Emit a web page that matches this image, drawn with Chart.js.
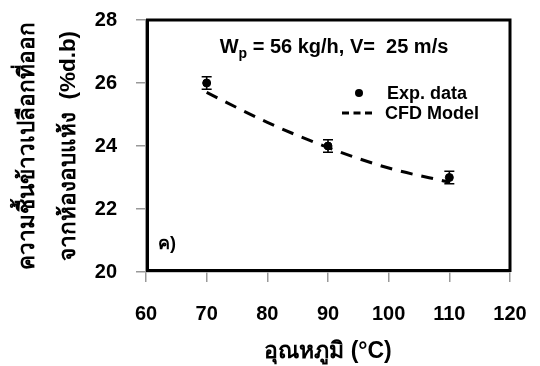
<!DOCTYPE html>
<html>
<head>
<meta charset="utf-8">
<script src="https://cdn.jsdelivr.net/npm/chart.js@4/dist/chart.umd.min.js"></script>
<style>
  html, body { margin: 0; padding: 0; background: #fff; }
  #wrap { width: 540px; height: 366px; }
</style>
</head>
<body>
<div id="wrap"><canvas id="c" width="540" height="366"></canvas></div>
<script>
// Measured paddy moisture at the dryer outlet vs. drying temperature
const tempsExp = [70, 90, 110];
const moistureExp = [26.0, 24.0, 23.0];
const moistureErr = [0.2, 0.2, 0.2];

// CFD model prediction
const tempsModel = [70, 80, 90, 100, 110];
const moistureModel = [25.7, 24.75, 23.95, 23.3, 22.85];

const xRange = [60, 120, 10];
const yRange = [20, 28, 2];

const FONT = "'Liberation Sans', Arial, 'DejaVu Sans', sans-serif";

const expPoints = tempsExp.map((t, i) => ({ x: t, y: moistureExp[i] }));
const modelPoints = tempsModel.map((t, i) => ({ x: t, y: moistureModel[i] }));

// error bars for the experimental points
const errorBars = {
  id: 'errorBars',
  afterDatasetsDraw(chart) {
    const { ctx, scales: { x, y } } = chart;
    ctx.save();
    ctx.strokeStyle = '#000';
    ctx.lineWidth = 1.6;
    tempsExp.forEach((t, i) => {
      const px = x.getPixelForValue(t);
      const top = y.getPixelForValue(moistureExp[i] + moistureErr[i]);
      const bot = y.getPixelForValue(moistureExp[i] - moistureErr[i]);
      ctx.beginPath();
      ctx.moveTo(px, top); ctx.lineTo(px, bot);
      ctx.moveTo(px - 5, top); ctx.lineTo(px + 5, top);
      ctx.moveTo(px - 5, bot); ctx.lineTo(px + 5, bot);
      ctx.stroke();
    });
    ctx.restore();
  }
};

// black plot frame, in-plot heading, panel tag and legend
const decorations = {
  id: 'decorations',
  afterDraw(chart) {
    const { ctx, chartArea: a } = chart;
    ctx.save();
    ctx.strokeStyle = '#000';
    ctx.lineWidth = 3;
    ctx.strokeRect(a.left + 1.5, a.top, a.right - a.left - 1.5, a.bottom - a.top - 1.5);

    // heading: W_p = 56 kg/h, V=  25 m/s
    ctx.fillStyle = '#000';
    ctx.textBaseline = 'alphabetic';
    ctx.textAlign = 'left';
    const big = 'bold 20px ' + FONT, small = 'bold 14px ' + FONT;
    const rest = ' = 56 kg/h, V=  25 m/s';
    ctx.font = big; const wW = ctx.measureText('W').width; const wR = ctx.measureText(rest).width;
    ctx.font = small; const wP = ctx.measureText('p').width;
    let hx = 334 - (wW + wP + wR) / 2;
    const hb = 53;
    ctx.font = big; ctx.fillText('W', hx, hb); hx += wW;
    ctx.font = small; ctx.fillText('p', hx, hb + 5); hx += wP;
    ctx.font = big; ctx.fillText(rest, hx, hb);

    // panel tag
    ctx.textBaseline = 'middle';
    ctx.font = 'bold 18px ' + FONT;
    ctx.fillText('ค)', 158, 244);

    // legend
    const ds = chart.data.datasets;
    ctx.beginPath();
    ctx.arc(359, 93, 4, 0, Math.PI * 2);
    ctx.fill();
    ctx.fillText(ds[0].label, 387, 94);
    ctx.lineWidth = 3;
    ctx.setLineDash([7, 4.5]);
    ctx.beginPath();
    ctx.moveTo(342, 113); ctx.lineTo(374, 113);
    ctx.stroke();
    ctx.setLineDash([]);
    ctx.fillText(ds[1].label, 385, 114);
    ctx.restore();
  }
};

new Chart(document.getElementById('c'), {
  type: 'scatter',
  data: {
    datasets: [
      {
        label: 'Exp. data',
        data: expPoints,
        backgroundColor: '#000',
        borderColor: '#000',
        pointRadius: 4,
        pointHoverRadius: 4,
        showLine: false,
        order: 1
      },
      {
        label: 'CFD Model',
        data: modelPoints,
        showLine: true,
        borderColor: '#000',
        borderWidth: 3,
        borderDash: [12, 9],
        cubicInterpolationMode: 'monotone',
        pointRadius: 0,
        fill: false,
        order: 2
      }
    ]
  },
  options: {
    responsive: false,
    devicePixelRatio: 1,
    animation: false,
    layout: { padding: { left: 0, right: 30, top: 20, bottom: 0 } },
    plugins: { legend: { display: false }, tooltip: { enabled: false } },
    scales: {
      x: {
        type: 'linear',
        min: xRange[0], max: xRange[1],
        ticks: { stepSize: xRange[2], color: '#000', padding: 20, font: { family: FONT, size: 20, weight: 'bold' } },
        grid: { drawOnChartArea: false, drawTicks: true, tickLength: 10, color: '#999', lineWidth: 1.5 },
        border: { display: true, color: '#999', width: 1.5 },
        title: {
          display: true,
          text: 'อุณหภูมิ (°C)',
          color: '#000',
          padding: { top: 0, bottom: 1 },
          font: { family: FONT, size: 23, weight: 'bold' }
        },
        afterFit(s) { s.height = 94; s.paddingLeft = 0; s.paddingRight = 0; }
      },
      y: {
        type: 'linear',
        min: yRange[0], max: yRange[1],
        ticks: { stepSize: yRange[2], color: '#000', padding: 19, font: { family: FONT, size: 20, weight: 'bold' } },
        grid: { drawOnChartArea: false, drawTicks: true, tickLength: 10, color: '#999', lineWidth: 1.5 },
        border: { display: true, color: '#999', width: 1.5 },
        title: {
          display: true,
          text: ['ความชื้นข้าวเปลือกที่ออก', 'จากห้องอบแห้ง  (%d.b)'],
          color: '#000',
          padding: { top: 7, bottom: 0 },
          font: { family: FONT, size: 22.5, weight: 'bold', lineHeight: 1.82 }
        },
        afterFit(s) { s.width = 146; s.paddingTop = 0; s.paddingBottom = 0; }
      }
    }
  },
  plugins: [errorBars, decorations]
});
</script>
</body>
</html>
